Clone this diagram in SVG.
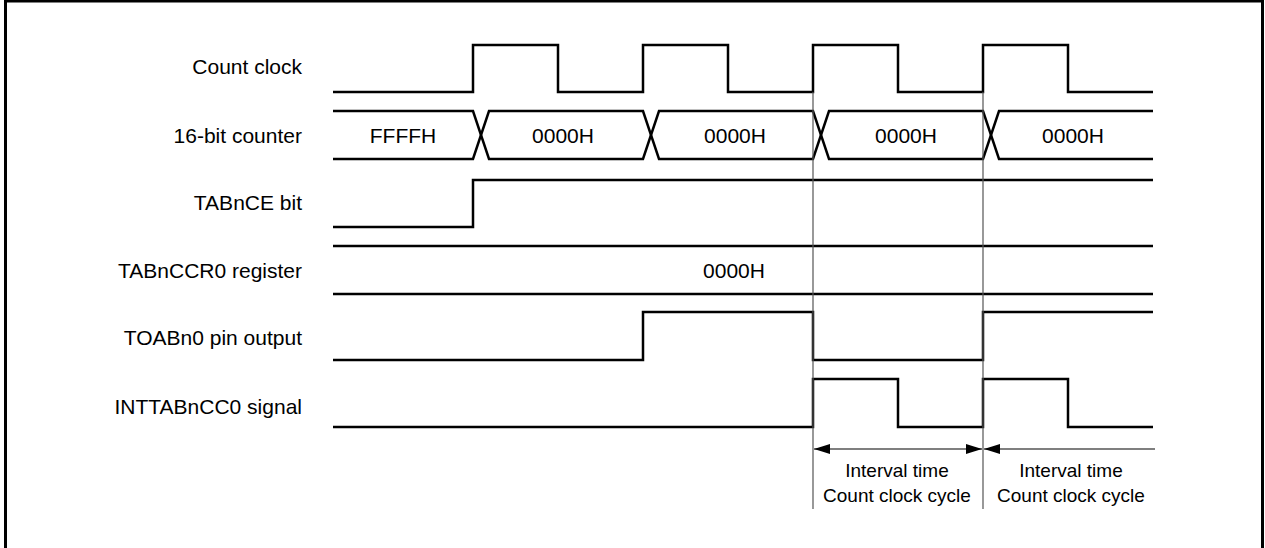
<svg xmlns="http://www.w3.org/2000/svg" width="1265" height="548" viewBox="0 0 1265 548">
<style>
.lbl{font-family:"Liberation Sans",Arial,sans-serif;font-size:21px;fill:#000;text-anchor:end}
.val{font-family:"Liberation Sans",Arial,sans-serif;font-size:21px;fill:#000;text-anchor:middle}
.note{font-family:"Liberation Sans",Arial,sans-serif;font-size:19px;fill:#000;text-anchor:middle}
.w{fill:none;stroke:#000;stroke-width:2.5;stroke-linejoin:miter}
.thin{fill:none;stroke:#555;stroke-width:1.2}
.arr{fill:none;stroke:#000;stroke-width:1.2}
</style>
<defs>
<marker id="ah" viewBox="0 0 16 10" refX="16" refY="5" markerWidth="16" markerHeight="10" markerUnits="userSpaceOnUse" orient="auto-start-reverse">
<path d="M0,0 L16,5 L0,10 Z" fill="#000"/>
</marker>
</defs>
<rect x="5.5" y="1" width="1257" height="580" fill="#fff" stroke="#000" stroke-width="3"/>

<g id="count-clock">
<text class="lbl" x="302" y="74">Count clock</text>
<path class="w" d="M333,92 H473 V45 H558 V92 H643 V45 H728 V92 H813 V45 H898 V92 H983 V45 H1068 V92 H1153"/>
</g>

<g id="counter">
<text class="lbl" x="302" y="142.5">16-bit counter</text>
<path class="w" d="M333,111 H473 L489,159 H643 L659,111 H813 L829,159 H983 L999,111 H1153"/>
<path class="w" d="M333,159 H473 L489,111 H643 L659,159 H813 L829,111 H983 L999,159 H1153"/>
<text class="val" x="403" y="142.5">FFFFH</text>
<text class="val" x="563" y="142.5">0000H</text>
<text class="val" x="735" y="142.5">0000H</text>
<text class="val" x="906" y="142.5">0000H</text>
<text class="val" x="1073" y="142.5">0000H</text>
</g>

<g id="tabnce">
<text class="lbl" x="302" y="210">TABnCE bit</text>
<path class="w" d="M333,227 H473 V180 H1153"/>
</g>

<g id="tabnccr0">
<text class="lbl" x="302" y="278">TABnCCR0 register</text>
<path class="w" d="M333,246 H1153 M333,294 H1153"/>
<text class="val" x="734" y="278">0000H</text>
</g>

<g id="toabn0">
<text class="lbl" x="302" y="345">TOABn0 pin output</text>
<path class="w" d="M333,360 H643 V312 H813 V360 H983 V312 H1153"/>
</g>

<g id="inttabncc0">
<text class="lbl" x="302" y="414">INTTABnCC0 signal</text>
<path class="w" d="M333,427 H813 V379 H898 V427 H983 V379 H1068 V427 H1153"/>
</g>

<g id="connectors">
<path class="thin" d="M813,92 V509 M983,92 V509"/>
<line class="arr" x1="814" y1="449" x2="982" y2="449" marker-start="url(#ah)" marker-end="url(#ah)"/>
<line class="arr" x1="1155" y1="449" x2="984" y2="449" marker-end="url(#ah)"/>
</g>

<g id="interval-1">
<text class="note" x="897" y="477">Interval time</text>
<text class="note" x="897" y="502">Count clock cycle</text>
</g>
<g id="interval-2">
<text class="note" x="1071" y="477">Interval time</text>
<text class="note" x="1071" y="502">Count clock cycle</text>
</g>
</svg>
